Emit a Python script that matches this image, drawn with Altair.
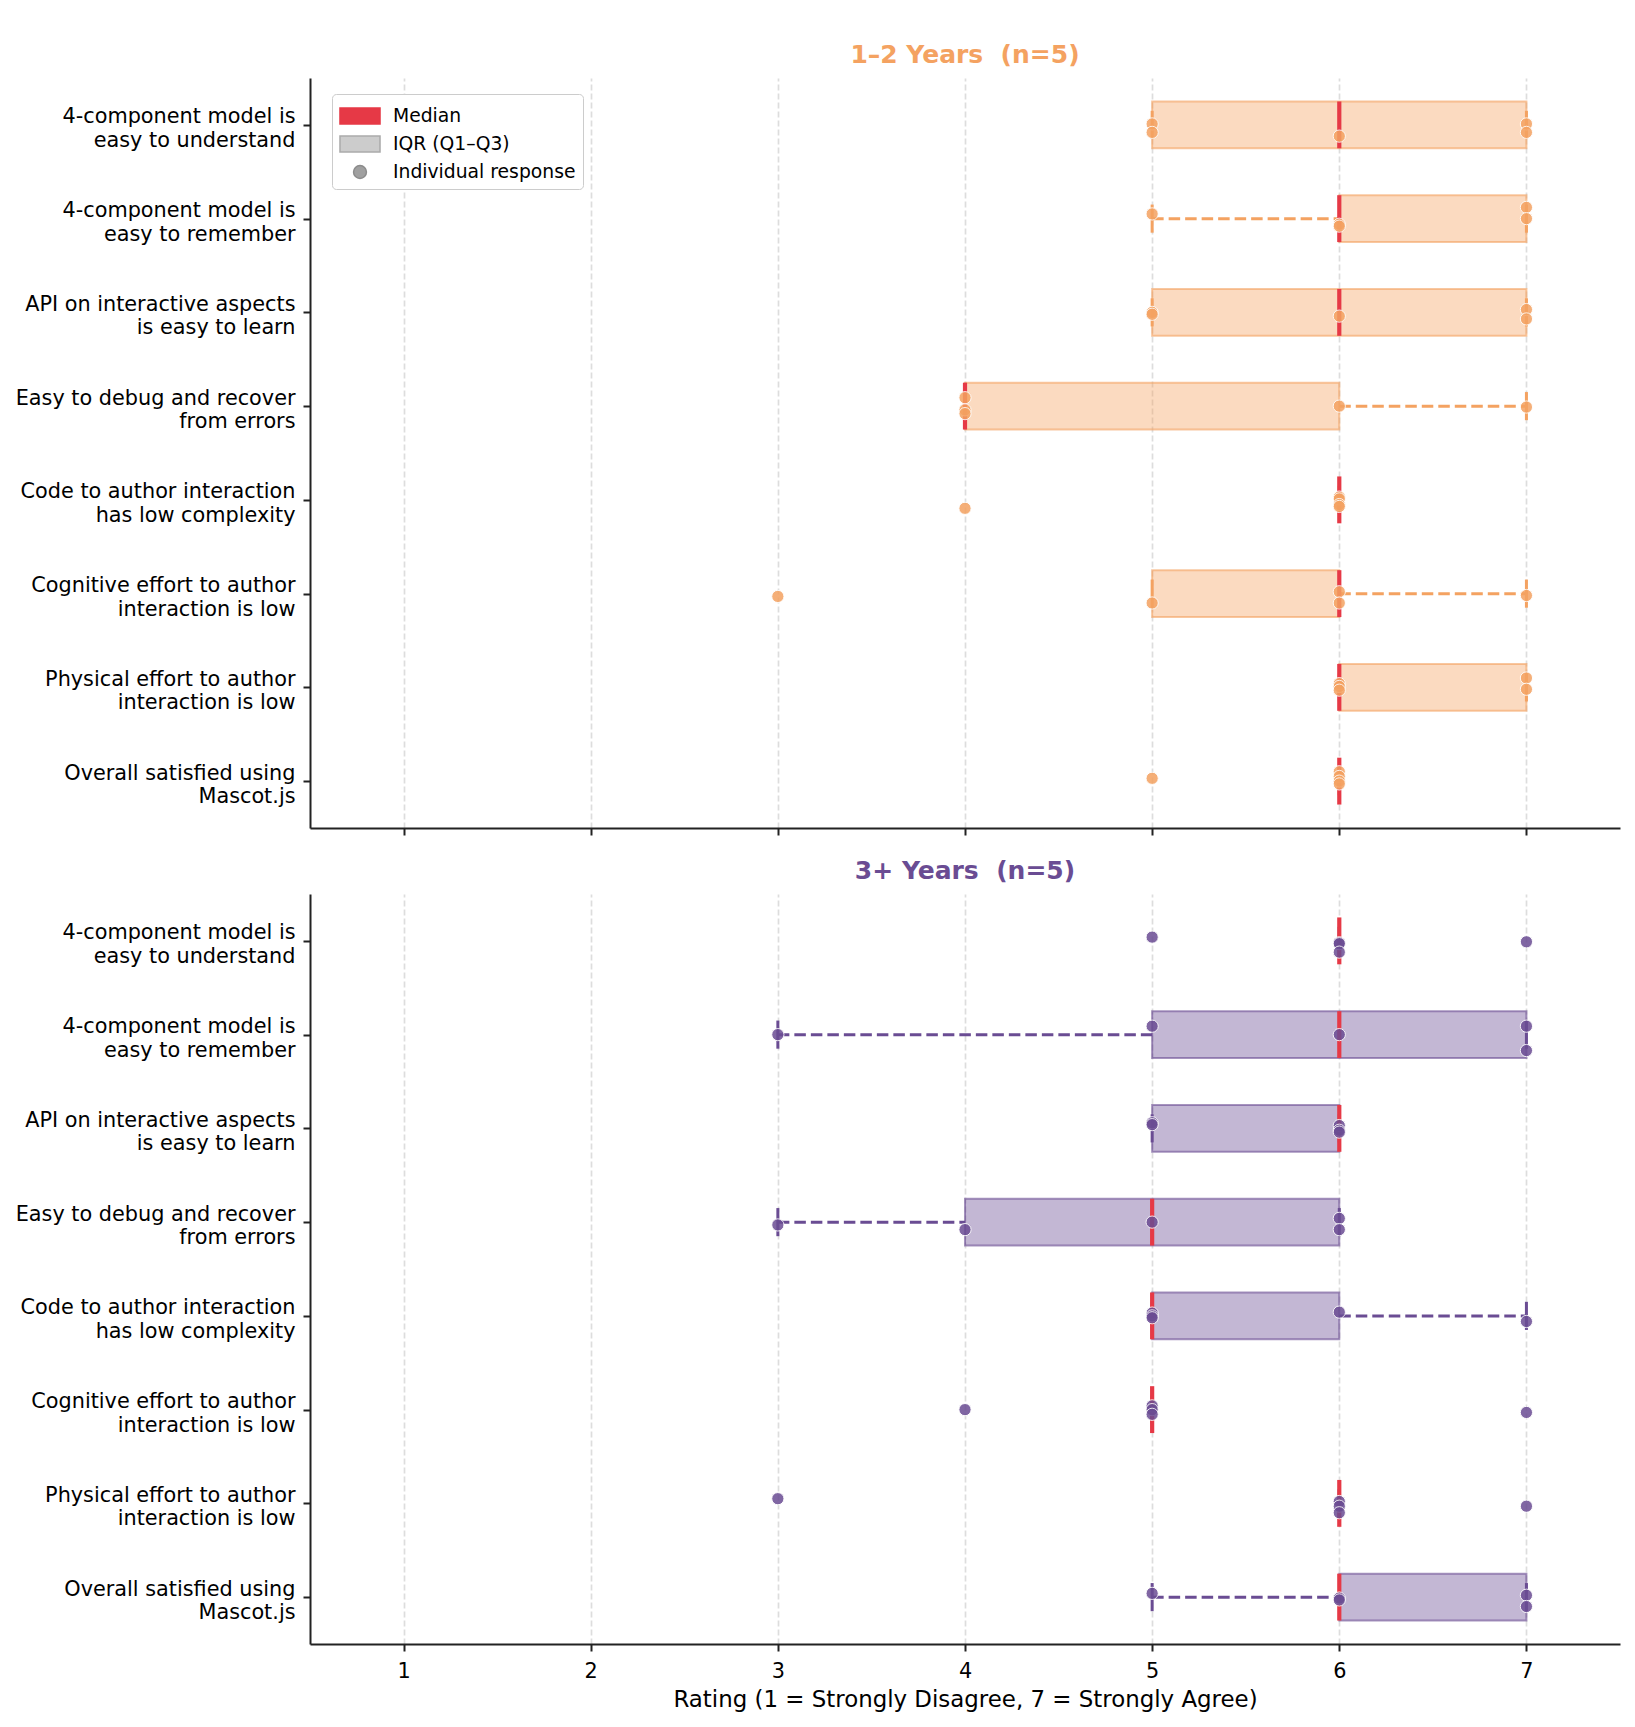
import json

import altair as alt
import numpy as np
import pandas as pd

# Survey statements (two-line labels split on "|")
QUESTIONS = [
    "4-component model is|easy to understand",
    "4-component model is|easy to remember",
    "API on interactive aspects|is easy to learn",
    "Easy to debug and recover|from errors",
    "Code to author interaction|has low complexity",
    "Cognitive effort to author|interaction is low",
    "Physical effort to author|interaction is low",
    "Overall satisfied using|Mascot.js",
]

GROUP_NAMES = ["1–2 Years", "3+ Years"]
GROUP_COLORS = ["#F4A261", "#6A4C93"]

# Likert responses per statement (n = 5 per group)
RATINGS_1_2 = [
    [5, 5, 6, 7, 7],
    [5, 6, 6, 7, 7],
    [5, 5, 6, 7, 7],
    [4, 4, 4, 6, 7],
    [4, 6, 6, 6, 6],
    [3, 5, 6, 6, 7],
    [6, 6, 6, 7, 7],
    [5, 6, 6, 6, 6],
]
RATINGS_3P = [
    [5, 6, 6, 6, 7],
    [3, 5, 6, 7, 7],
    [5, 5, 6, 6, 6],
    [3, 4, 5, 6, 6],
    [5, 5, 5, 6, 7],
    [4, 5, 5, 5, 7],
    [3, 6, 6, 6, 7],
    [5, 6, 6, 7, 7],
]

# Vertical jitter of each response dot, in row units
JITTER_1_2 = [
    [-0.01, 0.08, 0.12, -0.01, 0.08],
    [-0.05, 0.06, 0.08, -0.12, 0.0],
    [0.0, 0.02, 0.04, -0.03, 0.07],
    [-0.09, 0.04, 0.08, 0.0, 0.01],
    [0.09, -0.03, -0.01, 0.05, 0.07],
    [0.03, 0.10, -0.02, 0.10, 0.02],
    [-0.04, -0.01, 0.03, -0.10, 0.02],
    [-0.03, -0.10, -0.05, 0.0, 0.03],
]
JITTER_3P = [
    [-0.04, 0.02, 0.03, 0.12, 0.01],
    [0.0, -0.09, 0.0, -0.09, 0.17],
    [-0.06, -0.04, -0.03, 0.02, 0.04],
    [0.03, 0.08, 0.0, -0.04, 0.08],
    [-0.03, 0.0, 0.02, -0.04, 0.06],
    [0.0, -0.04, 0.0, 0.05, 0.03],
    [-0.05, -0.02, 0.03, 0.10, 0.03],
    [-0.04, 0.01, 0.03, -0.02, 0.10],
]

GROUP_RATINGS = [RATINGS_1_2, RATINGS_3P]
GROUP_JITTER = [JITTER_1_2, JITTER_3P]

RATING_TICKS = [1, 2, 3, 4, 5, 6, 7]
X_TITLE = "Rating (1 = Strongly Disagree, 7 = Strongly Agree)"

MEDIAN_COLOR = "#E63946"
LEGEND_ENTRIES = ["Median", "IQR (Q1–Q3)", "Individual response"]
LEGEND_FILLS = ["#E63946", "#cccccc", "#a0a0a0"]
LEGEND_STROKES = ["#E63946", "#aaaaaa", "#8c8c8c"]
# Symbol paths in the unit square of a 28 px legend symbol (40x16 swatches)
LEGEND_SHAPES = [
    "M-1.43,-0.57H1.43V0.57H-1.43Z",
    "M-1.43,-0.57H1.43V0.57H-1.43Z",
    "M-0.46,0A0.46,0.46,0,1,0,0.46,0A0.46,0.46,0,1,0,-0.46,0Z",
]

FONT = "DejaVu Sans"
PANEL_W, PANEL_H = 1310, 750
BOX_HALF = 0.25
CAP_HALF = 0.15


def build_tables(ratings, jitter):
    points, boxes, whiskers, caps = [], [], [], []
    for i, (vals, jit) in enumerate(zip(ratings, jitter)):
        a = np.asarray(vals, dtype=float)
        q1, med, q3 = np.percentile(a, [25, 50, 75])
        iqr = q3 - q1
        lo = a[a >= q1 - 1.5 * iqr].min()
        hi = a[a <= q3 + 1.5 * iqr].max()
        boxes.append(dict(row=i, q1=q1, q3=q3, med=med,
                          top=i - BOX_HALF, bot=i + BOX_HALF))
        for s, e in ((lo, q1), (q3, hi)):
            if e > s:
                whiskers.append(dict(row=i, start=s, end=e))
        for c in (lo, hi):
            caps.append(dict(x=c, top=i - CAP_HALF, bot=i + CAP_HALF))
        for v, j in zip(vals, jit):
            points.append(dict(rating=v, pos=i + j))
    return (pd.DataFrame(points), pd.DataFrame(boxes),
            pd.DataFrame(whiskers), pd.DataFrame(caps))


labels_js = "[" + ",".join(json.dumps(q) for q in QUESTIONS) + "]"
y_label_expr = f"split({labels_js}[datum.value], '|')"

x_scale = alt.Scale(domain=[0.5, 7.5], nice=False, zero=False)
y_scale = alt.Scale(domain=[-0.5, len(QUESTIONS) - 0.5], reverse=True,
                    nice=False, zero=False)

y_axis = alt.Axis(
    values=list(range(len(QUESTIONS))), labelExpr=y_label_expr,
    grid=False, labelFontSize=20.8, labelFont=FONT, labelColor="black",
    labelLineHeight=23.5, labelAlign="right", labelBaseline="middle",
    labelOffset=-8, labelLimit=500, labelOverlap=False, labelPadding=8,
    tickSize=7, tickWidth=2, tickColor="#222222",
    domainWidth=2, domainColor="#222222", title=None,
)


def x_axis(show_labels):
    return alt.Axis(
        values=RATING_TICKS, format="d", labels=show_labels,
        labelFontSize=20.8, labelFont=FONT, labelColor="black",
        labelPadding=10, labelFlush=False,
        tickSize=7, tickWidth=2, tickColor="#222222",
        domainWidth=2, domainColor="#222222",
        grid=True, gridColor="#dddddd", gridWidth=1.7, gridDash=[6, 3],
        titleFontSize=22.9, titleFont=FONT, titleFontWeight="normal",
        titleColor="black", titlePadding=8,
    )


def panel(g, with_legend, show_x):
    color = GROUP_COLORS[g]
    pts, boxes, whisk, caps = build_tables(GROUP_RATINGS[g], GROUP_JITTER[g])
    xa = x_axis(show_x)
    xt = X_TITLE if show_x else None

    box_layer = alt.Chart(boxes).transform_filter(
        "datum.q3 > datum.q1"
    ).mark_rect(
        fill=color, fillOpacity=0.4, stroke=color, strokeOpacity=0.6,
        strokeWidth=2,
    ).encode(
        x=alt.X("q1:Q", scale=x_scale, axis=xa, title=xt),
        x2="q3:Q",
        y=alt.Y("top:Q", scale=y_scale, axis=y_axis),
        y2="bot:Q",
    )

    whisker_layer = alt.Chart(whisk).mark_rule(
        color=color, strokeWidth=3, strokeDash=[11.5, 5],
    ).encode(
        x=alt.X("start:Q", scale=x_scale, axis=xa, title=xt),
        x2="end:Q",
        y=alt.Y("row:Q", scale=y_scale, axis=y_axis),
    )

    cap_layer = alt.Chart(caps).mark_rule(
        color=color, strokeWidth=3,
    ).encode(
        x=alt.X("x:Q", scale=x_scale, axis=xa, title=xt),
        y=alt.Y("top:Q", scale=y_scale, axis=y_axis),
        y2="bot:Q",
    )

    median_layer = alt.Chart(boxes).mark_rule(
        color=MEDIAN_COLOR, strokeWidth=4.2,
    ).encode(
        x=alt.X("med:Q", scale=x_scale, axis=xa, title=xt),
        y=alt.Y("top:Q", scale=y_scale, axis=y_axis),
        y2="bot:Q",
    )

    point_layer = alt.Chart(pts).mark_circle(
        size=150, fill=color, opacity=0.85, stroke="white", strokeWidth=1,
    ).encode(
        x=alt.X("rating:Q", scale=x_scale, axis=xa, title=xt),
        y=alt.Y("pos:Q", scale=y_scale, axis=y_axis),
    )

    layers = [box_layer, whisker_layer, cap_layer, median_layer, point_layer]

    if with_legend:
        leg = alt.Legend(
            orient="none", legendX=22, legendY=16, title=None,
            symbolSize=784, symbolStrokeWidth=1.5, symbolOffset=6,
            labelFontSize=18.75, labelFont=FONT, labelColor="black",
            labelOffset=18, labelLimit=400, rowPadding=2, padding=7,
            fillColor="white", strokeColor="#cccccc", cornerRadius=4,
        )
        legend_layer = alt.Chart(
            pd.DataFrame({"entry": LEGEND_ENTRIES})
        ).transform_filter("false").mark_point(
            filled=True, opacity=1, strokeWidth=1.5,
        ).encode(
            fill=alt.Fill("entry:N", legend=leg, scale=alt.Scale(
                domain=LEGEND_ENTRIES, range=LEGEND_FILLS)),
            stroke=alt.Stroke("entry:N", legend=leg, scale=alt.Scale(
                domain=LEGEND_ENTRIES, range=LEGEND_STROKES)),
            shape=alt.Shape("entry:N", legend=leg, scale=alt.Scale(
                domain=LEGEND_ENTRIES, range=LEGEND_SHAPES)),
        )
        layers.append(legend_layer)

    n = len(GROUP_RATINGS[g][0])
    title = alt.TitleParams(
        text=f"{GROUP_NAMES[g]} \u00a0(n={n})", color=color, fontSize=25,
        fontWeight="bold", font=FONT, anchor="middle", frame="group",
        baseline="alphabetic", offset=-10,
    )
    return alt.layer(*layers).properties(
        width=PANEL_W, height=PANEL_H, title=title
    )


chart = alt.vconcat(
    panel(0, with_legend=True, show_x=False),
    panel(1, with_legend=False, show_x=True),
    spacing=66, bounds="flush",
).properties(
    padding={"left": 15, "top": 43, "right": 15, "bottom": 14},
).configure(
    font=FONT,
).configure_view(
    stroke=None,
)

chart.save("out.html", embed_options={"renderer": "svg", "actions": False})
